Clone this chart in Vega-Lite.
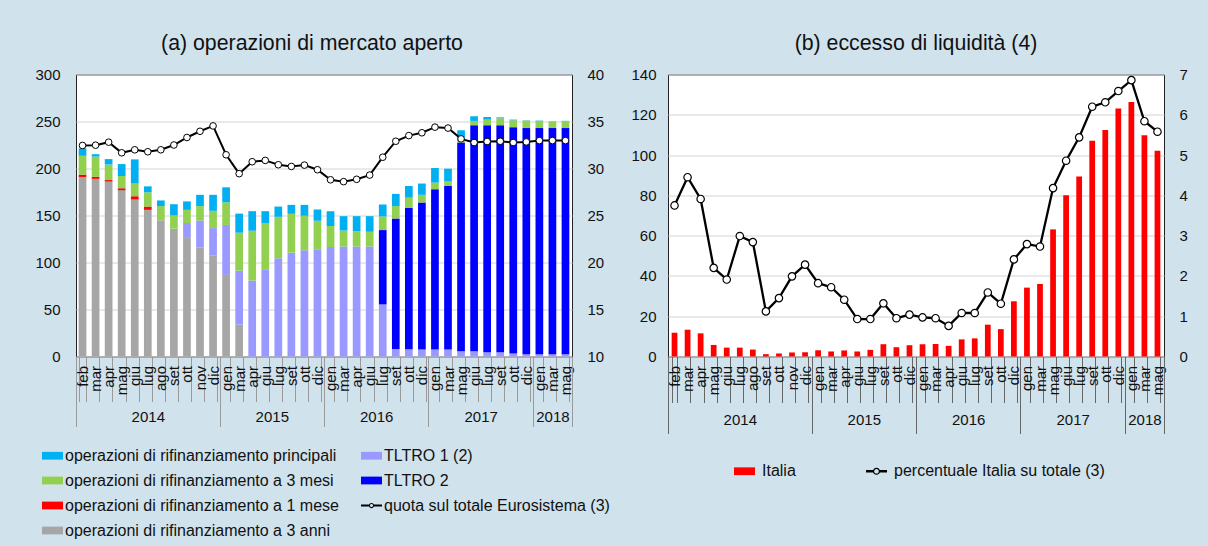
{
  "$schema": "https://vega.github.io/schema/vega-lite/v6.json",
  "background": "#d0e2ec",
  "padding": {"left": 34, "top": 32.5, "right": 21, "bottom": 6},
  "config": {
    "font": "Liberation Sans",
    "view": {"stroke": "#222", "fill": "white", "strokeWidth": 1},
    "axis": {"labelColor": "#111", "labelFont": "Liberation Sans"},
    "legend": {"labelFont": "Liberation Sans", "labelColor": "#111"},
    "title": {"font": "Liberation Sans", "color": "#111"}
  },
  "datasets": {
    "anni": [
      {"anno": "2014", "fine": 11},
      {"anno": "2015", "fine": 19},
      {"anno": "2016", "fine": 27},
      {"anno": "2017", "fine": 35},
      {"anno": "2018", "fine": 38}
    ],
    "a": [
      {"k": "2014-feb", "a3": 191, "m1": 2.5, "t1": 0, "t2": 0, "m3": 20, "p": 8, "quota": 32.45},
      {"k": "2014-mar", "a3": 189, "m1": 2.2, "t1": 0, "t2": 0, "m3": 21.5, "p": 2.5, "quota": 32.48},
      {"k": "2014-apr", "a3": 186, "m1": 1.7, "t1": 0, "t2": 0, "m3": 16.6, "p": 5.7, "quota": 32.8},
      {"k": "2014-mag", "a3": 177, "m1": 2, "t1": 0, "t2": 0, "m3": 13, "p": 12.7, "quota": 31.67},
      {"k": "2014-giu", "a3": 167, "m1": 3.5, "t1": 0, "t2": 0, "m3": 13.5, "p": 25.7, "quota": 31.99},
      {"k": "2014-lug", "a3": 156, "m1": 3.5, "t1": 0, "t2": 0, "m3": 15.2, "p": 6.3, "quota": 31.78},
      {"k": "2014-ago", "a3": 145, "m1": 0, "t1": 0, "t2": 0, "m3": 15, "p": 6, "quota": 31.99},
      {"k": "2014-set", "a3": 136, "m1": 0, "t1": 0, "t2": 0, "m3": 14, "p": 12, "quota": 32.5},
      {"k": "2014-ott", "a3": 127, "m1": 0, "t1": 15, "t2": 0, "m3": 14, "p": 9, "quota": 33.3},
      {"k": "2014-nov", "a3": 116, "m1": 0, "t1": 28.7, "t2": 0, "m3": 15.3, "p": 12, "quota": 33.96},
      {"k": "2014-dic", "a3": 107.7, "m1": 0, "t1": 28.9, "t2": 0, "m3": 18.4, "p": 17, "quota": 34.53},
      {"k": "2015-gen", "a3": 86.8, "m1": 0, "t1": 53.2, "t2": 0, "m3": 24, "p": 16, "quota": 31.46},
      {"k": "2015-mar", "a3": 33.9, "m1": 0, "t1": 57.5, "t2": 0, "m3": 40.3, "p": 20.3, "quota": 29.45},
      {"k": "2015-apr", "a3": 0, "m1": 0, "t1": 80.8, "t2": 0, "m3": 53, "p": 20.8, "quota": 30.72},
      {"k": "2015-giu", "a3": 0, "m1": 0, "t1": 92.8, "t2": 0, "m3": 49.1, "p": 12.7, "quota": 30.86},
      {"k": "2015-lug", "a3": 0, "m1": 0, "t1": 104.5, "t2": 0, "m3": 44.1, "p": 10.9, "quota": 30.4},
      {"k": "2015-set", "a3": 0, "m1": 0, "t1": 110.5, "t2": 0, "m3": 41.3, "p": 9.5, "quota": 30.22},
      {"k": "2015-ott", "a3": 0, "m1": 0, "t1": 113, "t2": 0, "m3": 36.7, "p": 11.6, "quota": 30.36},
      {"k": "2015-dic", "a3": 0, "m1": 0, "t1": 114, "t2": 0, "m3": 30.4, "p": 12, "quota": 29.87},
      {"k": "2016-gen", "a3": 0, "m1": 0, "t1": 116.5, "t2": 0, "m3": 22.2, "p": 15.9, "quota": 28.8},
      {"k": "2016-mar", "a3": 0, "m1": 0, "t1": 117, "t2": 0, "m3": 17, "p": 15.3, "quota": 28.6},
      {"k": "2016-apr", "a3": 0, "m1": 0, "t1": 117, "t2": 0, "m3": 16.4, "p": 15.9, "quota": 28.85},
      {"k": "2016-giu", "a3": 0, "m1": 0, "t1": 117, "t2": 0, "m3": 15.7, "p": 16.6, "quota": 29.3},
      {"k": "2016-lug", "a3": 0, "m1": 0, "t1": 55.4, "t2": 79.1, "m3": 14.5, "p": 12.7, "quota": 31.2},
      {"k": "2016-set", "a3": 0, "m1": 0, "t1": 8, "t2": 138.8, "m3": 13.2, "p": 13, "quota": 32.9},
      {"k": "2016-ott", "a3": 0, "m1": 0, "t1": 7.8, "t2": 150.2, "m3": 11, "p": 12.4, "quota": 33.5},
      {"k": "2016-dic", "a3": 0, "m1": 0, "t1": 7.4, "t2": 156.4, "m3": 8.2, "p": 12, "quota": 33.8},
      {"k": "2017-gen", "a3": 0, "m1": 0, "t1": 7.4, "t2": 170.6, "m3": 7, "p": 15.5, "quota": 34.4},
      {"k": "2017-mar", "a3": 0, "m1": 0, "t1": 7.4, "t2": 174, "m3": 5.3, "p": 13.1, "quota": 34.3},
      {"k": "2017-mag", "a3": 0, "m1": 0, "t1": 5.6, "t2": 222.1, "m3": 4.3, "p": 8.7, "quota": 33.15},
      {"k": "2017-giu", "a3": 0, "m1": 0, "t1": 5.6, "t2": 240.4, "m3": 4.6, "p": 5, "quota": 32.76},
      {"k": "2017-lug", "a3": 0, "m1": 0, "t1": 4.6, "t2": 241.4, "m3": 6, "p": 2.8, "quota": 32.87},
      {"k": "2017-set", "a3": 0, "m1": 0, "t1": 4.6, "t2": 241.4, "m3": 7.4, "p": 1, "quota": 32.9},
      {"k": "2017-ott", "a3": 0, "m1": 0, "t1": 3.2, "t2": 240.8, "m3": 7.3, "p": 0.7, "quota": 32.76},
      {"k": "2017-dic", "a3": 0, "m1": 0, "t1": 2.5, "t2": 240.5, "m3": 8, "p": 0.3, "quota": 32.83},
      {"k": "2018-gen", "a3": 0, "m1": 0, "t1": 2.5, "t2": 240.5, "m3": 7.6, "p": 0.4, "quota": 32.97},
      {"k": "2018-mar", "a3": 0, "m1": 0, "t1": 2.5, "t2": 240.5, "m3": 7.3, "p": 0, "quota": 32.97},
      {"k": "2018-mag", "a3": 0, "m1": 0, "t1": 2.5, "t2": 240.5, "m3": 7.3, "p": 0.4, "quota": 32.97}
    ],
    "b": [
      {"k": "2014-feb", "italia": 11.8, "perc": 3.75},
      {"k": "2014-mar", "italia": 13.3, "perc": 4.45},
      {"k": "2014-apr", "italia": 11.5, "perc": 3.91},
      {"k": "2014-mag", "italia": 5.75, "perc": 2.2},
      {"k": "2014-giu", "italia": 4.4, "perc": 1.91},
      {"k": "2014-lug", "italia": 4.4, "perc": 2.99},
      {"k": "2014-ago", "italia": 3.45, "perc": 2.84},
      {"k": "2014-set", "italia": 1.15, "perc": 1.12},
      {"k": "2014-ott", "italia": 1.5, "perc": 1.45},
      {"k": "2014-nov", "italia": 2.0, "perc": 1.99},
      {"k": "2014-dic", "italia": 2.1, "perc": 2.28},
      {"k": "2015-gen", "italia": 3.1, "perc": 1.82},
      {"k": "2015-mar", "italia": 2.5, "perc": 1.72},
      {"k": "2015-apr", "italia": 3.0, "perc": 1.41},
      {"k": "2015-giu", "italia": 2.5, "perc": 0.93},
      {"k": "2015-lug", "italia": 3.3, "perc": 0.93},
      {"k": "2015-set", "italia": 6.1, "perc": 1.32},
      {"k": "2015-ott", "italia": 4.6, "perc": 0.95},
      {"k": "2015-dic", "italia": 5.6, "perc": 1.04},
      {"k": "2016-gen", "italia": 6.1, "perc": 0.97},
      {"k": "2016-mar", "italia": 6.2, "perc": 0.95},
      {"k": "2016-apr", "italia": 5.3, "perc": 0.76},
      {"k": "2016-giu", "italia": 8.5, "perc": 1.08},
      {"k": "2016-lug", "italia": 9.0, "perc": 1.08},
      {"k": "2016-set", "italia": 15.8, "perc": 1.59},
      {"k": "2016-ott", "italia": 13.6, "perc": 1.31},
      {"k": "2016-dic", "italia": 27.4, "perc": 2.41},
      {"k": "2017-gen", "italia": 34.2, "perc": 2.79},
      {"k": "2017-mar", "italia": 36.0, "perc": 2.73},
      {"k": "2017-mag", "italia": 63.1, "perc": 4.18},
      {"k": "2017-giu", "italia": 80.0, "perc": 4.86},
      {"k": "2017-lug", "italia": 89.4, "perc": 5.44},
      {"k": "2017-set", "italia": 107.1, "perc": 6.2},
      {"k": "2017-ott", "italia": 112.4, "perc": 6.31},
      {"k": "2017-dic", "italia": 123.1, "perc": 6.59},
      {"k": "2018-gen", "italia": 126.4, "perc": 6.86},
      {"k": "2018-mar", "italia": 109.8, "perc": 5.84},
      {"k": "2018-mag", "italia": 102.2, "perc": 5.58}
    ]
  },
  "bounds": "flush",
  "spacing": 96,
  "resolve": {"scale": {"color": "independent"}, "legend": {"color": "independent"}},
  "hconcat": [
    {
      "width": 496,
      "height": 282,
      "title": {"text": "(a) operazioni di mercato aperto", "fontSize": 21.3, "fontWeight": "normal", "offset": 13, "dx": -12},
      "resolve": {"scale": {"x": "independent", "y": "independent"}, "axis": {"x": "independent", "y": "independent"}},
      "layer": [
        {
          "data": {"name": "a"},
          "transform": [
            {"fold": ["a3", "m1", "t1", "t2", "m3", "p"], "as": ["serie", "valore"]},
            {"calculate": "indexof(['a3','m1','t1','t2','m3','p'], datum.serie)", "as": "ord"}
          ],
          "mark": {"type": "bar"},
          "encoding": {
            "x": {
              "field": "k", "type": "nominal", "sort": null,
              "scale": {"paddingInner": 0.41, "paddingOuter": 0.205},
              "axis": {"orient": "bottom", "title": null, "labelAngle": -90, "labelExpr": "split(datum.value, '-')[1]", "tickBand": "extent", "tickSize": 45, "tickColor": "#9a9a9a", "labelPadding": -36, "labelFontSize": 15, "domain": false, "grid": false, "labelOverlap": false, "labelBound": false}
            },
            "y": {
              "field": "valore", "type": "quantitative", "stack": "zero",
              "scale": {"domain": [0, 300], "nice": false},
              "axis": {"orient": "left", "title": null, "ticks": false, "domain": false, "grid": true, "gridColor": "#d4d4d4", "labelPadding": 16, "labelFontSize": 15}
            },
            "color": {
              "field": "serie", "type": "nominal",
              "scale": {"domain": ["p", "m3", "m1", "a3", "t1", "t2", "quota"], "range": ["#00b0f0", "#92d050", "#ff0000", "#a6a6a6", "#9999ff", "#0000ff", "#000000"]},
              "legend": {
                "orient": "none", "legendX": -34, "legendY": 370.5, "direction": "vertical", "columns": 2, "title": null,
                "labelFontSize": 16, "labelLimit": 500, "symbolSize": 441, "symbolStrokeWidth": 0, "symbolOpacity": 1,
                "columnPadding": 22, "rowPadding": 6, "labelOffset": 2,
                "labelExpr": "datum.value === 'p' ? 'operazioni di rifinanziamento principali' : datum.value === 'm3' ? 'operazioni di rifinanziamento a 3 mesi' : datum.value === 'm1' ? 'operazioni di rifinanziamento a 1 mese' : datum.value === 'a3' ? 'operazioni di rifinanziamento a 3 anni' : datum.value === 't1' ? 'TLTRO 1 (2)' : datum.value === 't2' ? 'TLTRO 2' : 'quota sul totale Eurosistema (3)'",
                "encode": {"symbols": {"update": {"shape": {"signal": "datum.value === 'quota' ? 'M-1,-0.09H-0.22V0.09H-1Z M0.22,-0.09H1V0.09H0.22Z M0.25,0A0.25,0.25 0 1,1 -0.25,0A0.25,0.25 0 1,1 0.25,0Z M0.15,0A0.15,0.15 0 1,0 -0.15,0A0.15,0.15 0 1,0 0.15,0Z' : 'M-1,-0.37H1V0.37H-1Z'"}}}}
              }
            },
            "order": {"field": "ord", "type": "quantitative"}
          }
        },
        {
          "data": {"name": "a"},
          "mark": {"type": "line", "color": "black", "strokeWidth": 2, "point": {"filled": true, "fill": "white", "stroke": "black", "strokeWidth": 1, "size": 44, "opacity": 1}},
          "encoding": {
            "x": {"field": "k", "type": "nominal", "sort": null, "scale": {"paddingInner": 0.41, "paddingOuter": 0.205}, "axis": null},
            "y": {
              "field": "quota", "type": "quantitative",
              "scale": {"domain": [10, 40], "nice": false, "zero": false},
              "axis": {"orient": "right", "title": null, "ticks": false, "domain": false, "grid": false, "labelPadding": 15, "labelFontSize": 15}
            }
          }
        },
        {
          "data": {"name": "anni"},
          "mark": {"type": "rule", "opacity": 0},
          "encoding": {
            "x": {"field": "fine", "type": "quantitative", "scale": {"domain": [0, 38], "nice": false, "zero": false},
              "axis": {"orient": "bottom", "title": null, "values": [0, 11, 19, 27, 35, 38], "labels": false, "tickSize": 70, "tickColor": "#9a9a9a", "domain": false, "grid": false}}
          }
        },
        {
          "data": {"name": "anni"},
          "mark": {"type": "rule", "opacity": 0},
          "encoding": {
            "x": {"field": "fine", "type": "quantitative", "scale": {"domain": [0, 38], "nice": false, "zero": false},
              "axis": {"orient": "bottom", "title": null, "values": [5.5, 15, 23, 31, 36.5], "labelExpr": "datum.value < 11 ? '2014' : datum.value < 19 ? '2015' : datum.value < 27 ? '2016' : datum.value < 35 ? '2017' : '2018'", "ticks": false, "domain": false, "grid": false, "labelPadding": 53, "labelFontSize": 15, "labelFlush": false, "labelOverlap": false}}
          }
        }
      ]
    },
    {
      "width": 496,
      "height": 282,
      "title": {"text": "(b) eccesso di liquidità (4)", "fontSize": 21.3, "fontWeight": "normal", "offset": 13},
      "resolve": {"scale": {"x": "independent", "y": "independent"}, "axis": {"x": "independent", "y": "independent"}},
      "layer": [
        {
          "data": {"name": "b"},
          "mark": {"type": "bar"},
          "encoding": {
            "x": {
              "field": "k", "type": "nominal", "sort": null,
              "scale": {"paddingInner": 0.56, "paddingOuter": 0.28},
              "axis": {"orient": "bottom", "title": null, "labelAngle": -90, "labelExpr": "split(datum.value, '-')[1]", "tickBand": "extent", "tickSize": 46, "tickColor": "#666", "labelPadding": -37, "labelFontSize": 15, "domain": false, "grid": false, "labelOverlap": false, "labelBound": false}
            },
            "y": {
              "field": "italia", "type": "quantitative",
              "scale": {"domain": [0, 140], "nice": false},
              "axis": {"orient": "left", "title": null, "ticks": false, "domain": false, "grid": true, "gridColor": "#d4d4d4", "labelPadding": 12, "labelFontSize": 15}
            },
            "color": {
              "datum": "Italia",
              "scale": {"domain": ["Italia", "percentuale Italia su totale (3)"], "range": ["#ff0000", "#000000"]},
              "legend": {
                "orient": "none", "legendX": 66, "legendY": 386, "direction": "horizontal", "title": null,
                "labelFontSize": 16, "labelLimit": 500, "symbolSize": 441, "symbolStrokeWidth": 0, "symbolOpacity": 1,
                "columnPadding": 70, "labelOffset": 7,
                "encode": {"symbols": {"update": {"shape": {"signal": "datum.value === 'Italia' ? 'M-1,-0.37H1V0.37H-1Z' : 'M-1,-0.12H-0.3V0.12H-1Z M0.3,-0.12H1V0.12H0.3Z M0.34,0A0.34,0.34 0 1,1 -0.34,0A0.34,0.34 0 1,1 0.34,0Z M0.22,0A0.22,0.22 0 1,0 -0.22,0A0.22,0.22 0 1,0 0.22,0Z'"}}}}
              }
            }
          }
        },
        {
          "data": {"name": "b"},
          "mark": {"type": "line", "color": "black", "strokeWidth": 2.3, "point": {"filled": true, "fill": "white", "stroke": "black", "strokeWidth": 1.2, "size": 55, "opacity": 1}},
          "encoding": {
            "x": {"field": "k", "type": "nominal", "sort": null, "scale": {"paddingInner": 0.56, "paddingOuter": 0.28}, "axis": null},
            "y": {
              "field": "perc", "type": "quantitative",
              "scale": {"domain": [0, 7], "nice": false},
              "axis": {"orient": "right", "title": null, "ticks": false, "domain": false, "grid": false, "labelPadding": 15, "labelFontSize": 15}
            }
          }
        },
        {
          "data": {"name": "anni"},
          "mark": {"type": "rule", "opacity": 0},
          "encoding": {
            "x": {"field": "fine", "type": "quantitative", "scale": {"domain": [0, 38], "nice": false, "zero": false},
              "axis": {"orient": "bottom", "title": null, "values": [0, 11, 19, 27, 35, 38], "labels": false, "tickSize": 77, "tickColor": "#666", "domain": false, "grid": false}}
          }
        },
        {
          "data": {"name": "anni"},
          "mark": {"type": "rule", "opacity": 0},
          "encoding": {
            "x": {"field": "fine", "type": "quantitative", "scale": {"domain": [0, 38], "nice": false, "zero": false},
              "axis": {"orient": "bottom", "title": null, "values": [5.5, 15, 23, 31, 36.5], "labelExpr": "datum.value < 11 ? '2014' : datum.value < 19 ? '2015' : datum.value < 27 ? '2016' : datum.value < 35 ? '2017' : '2018'", "ticks": false, "domain": false, "grid": false, "labelPadding": 56, "labelFontSize": 15, "labelFlush": false, "labelOverlap": false}}
          }
        }
      ]
    }
  ]
}
